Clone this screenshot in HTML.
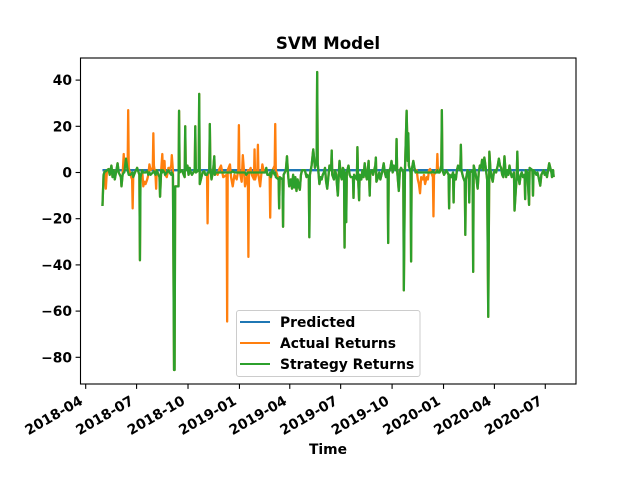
<!DOCTYPE html>
<html lang="en">
<head>
<meta charset="utf-8">
<title>SVM Model</title>
<style>
html,body{margin:0;padding:0;background:#fff;width:640px;height:480px;overflow:hidden}
svg{display:block}
text{font-family:"DejaVu Sans","Liberation Sans",sans-serif;font-weight:bold;fill:#000}
</style>
</head>
<body>
<svg id="chart" width="640" height="480" viewBox="0 0 640 480" xmlns="http://www.w3.org/2000/svg">
  <rect x="0" y="0" width="640" height="480" fill="#fff"/>
  <text x="328" y="49" font-size="16.67" text-anchor="middle">SVM Model</text>
  <g id="series"></g>
  <rect x="80.5" y="58" width="495.5" height="326" fill="none" stroke="#000" stroke-width="1.1"/>
  <g id="ticks"></g>
  <text x="328" y="454" font-size="13.89" text-anchor="middle">Time</text>
  <g>
    <rect x="236.5" y="310.5" width="183.5" height="66" rx="2.5" fill="#fff" fill-opacity="0.8" stroke="#ccc" stroke-width="1"/>
    <line x1="240" x2="270" y1="322" y2="322" stroke="#1f77b4" stroke-width="2.08"/>
    <text x="280" y="327" font-size="13.89">Predicted</text>
    <line x1="240" x2="270" y1="343" y2="343" stroke="#ff7f0e" stroke-width="2.08"/>
    <text x="280" y="348" font-size="13.89">Actual Returns</text>
    <line x1="240" x2="270" y1="364" y2="364" stroke="#2ca02c" stroke-width="2.08"/>
    <text x="280" y="369" font-size="13.89">Strategy Returns</text>
  </g>
</svg>
<script>
// Days since 2018-04-01
const days = [
30,32,34,36,38,41,43,46,48,50,
52,55,57,59,61,63,64,66,68,69,
72,75,76,77,80,83,84,85,88,90,
92,96,97,98,101,103,105,107,110,112,
114,116,120,121,122,125,126,127,132,133,
135,137,138,141,142,145,148,150,153,154,
156,158,159,160,166,167,168,172,177,178,
179,182,184,186,188,190,195,196,197,202,
203,204,207,209,212,214,217,218,219,221,222,223,
225,228,230,231,232,236,239,242,246,252,
253,254,258,260,263,266,270,273,274,275,
279,281,283,285,287,290,291,292,295,297,
301,302,303,307,308,309,312,314,316,318,
321,323,325,329,330,331,334,338,339,340,
345,346,347,352,353,354,358,360,362,364,
367,369,371,373,375,377,379,381,383,385,
387,390,392,395,396,399,400,401,404,407,
410,413,414,415,418,420,422,424,426,428,
430,432,434,436,439,440,441,444,446,448,
451,453,454,456,458,460,462,463,464,466,
467,470,472,474,478,479,480,485,486,487,
489,490,493,495,497,499,501,503,506,508,
509,512,514,518,519,520,523,525,527,529,
531,533,535,537,540,541,542,545,547,549,
551,555,556,557,560,562,564,568,569,571,
574,576,577,578,581,582,583,586,588,590,
592,594,596,598,600,603,605,607,610,612,
614,616,618,621,622,623,628,629,630,633,
636,637,638,641,643,645,649,650,651,654,
657,658,659,662,664,666,670,671,672,675,
678,679,680,683,685,686,687,692,693,694,
697,699,701,703,705,707,709,711,713,715,
718,720,722,724,726,728,730,732,734,737,
739,741,743,745,747,749,751,752,754,756,
758,760,762,766,767,771,772,773,776,778,
780,782,785,786,787,790,793,794,799,800,
801,804,806,808,810,813,815,817,819,821,
823,825,827,829,831,833,834,836,837
];
const actualReturns = [
-14.5,-1,0.5,-7,1,1.5,-1,3,-2,1,
-3,1,4,0,-1,-2,-6,-1,8,2,
6,1,27,2,-1,-3,-15.5,-2,0,1,
2,-1,-38,-2,1,-6,-4,-5,-3,-1,
3.5,1,2,17,3,-2,-7,1,-2,-10.5,
1,8,1,5,-1,-2,2,1,3,7.5,
1,-85.5,-85.5,-6,-6,26.7,0,1,-2,20,
1,3,-1,2,0,-1,1,20,0,1,
34,-5,-2,0,0.5,-1,-1,-22,0,0,21,2,
-3,1,7,-1,0,-1,1.5,3,-2,-1,
-64.5,1,3.5,-2,-6,-1,-3,1,20.5,1,
-4,7.5,1,-6,-4,1,-36.5,0,2,-1,
-3,10,-3,1,12,-1,-6,-1,3.5,1,
0,2,-1,-1,-19.5,-3,1,3,21,1,
-3,-15.5,-2,-3,-23.5,-1,1,7,-1,-6,
-3,-7,-1,-6.5,-2,-8,-3,-6,-7.5,-1,
1,1,1,-2,-1,-2,-28,-1,3,10,
2,5,43.5,4,-5,-2,-3,-1,0,2,
-4,-7,-2,3,1,9.5,-1,-3,1,-1,
-10,1,5,-1,-3,2,1,-32.5,0,-21.5,
0,3,-1,-2,-2,-11,-1,-3,11,-1,
-12,-1,-3,1,-2,4,-1,-3,5,-10,
0,1,-1,3,6.5,-4,-2,0,-3,-1,
1,4,0,-2,1,-30.5,0,2,5,0,
3,1,14.5,1,-8,1,2,0,-51,1,
26.7,5,17,3,0,-38.5,1,5,2,0,
1,-3,-5,-9,-2,-3,-1,-5,-2,-3,
1,1.5,0,-2,-19,-1,1,8,1,0,
3,27,1,-1,0,1,-1,-15.5,-1,-2,
0,-13,-1,-3,1,3,1,12,1,-2,
-4,-27,-3,1,0,-13,0,1,-43,3,
0,-3,-7,0,3,2,5.5,1,6.5,3,
-3,-62.5,9,1,-2,-4,0,1,0,3,
6,3,2,-1,-2,7,0,-2,1,-1,
3,0,-2,0,-16.5,-1,9,-1,-5,-1,
0,-2,-1,-11.5,1,0,-14,2,1,-10,
1,0,-1,0,-2,-5.7,-1,0,1,-1,
0,-2,1,4,2,0,-2,1,-2
];
const strategyReturns = [
-14.5,-1,0.5,0.5,1,1.5,-1,3,-2,1,
-3,1,4,0,-1,-2,-6,-1,0,0,
6,1,0,-1,-1,0,0,-2,0,1,
2,-1,-38,-2,1,0,0,0,0.5,-1,
0,-1,0,0,0.5,-1,0,1,-2,-10.5,
1,0,1,0,-1,0,1,0,-1,0,
-1,-85.5,-85.5,-6,-6,26.7,0,1,-2,20,
1,3,-1,2,0,-1,1,20,0,1,
34,-5,-2,0,0.5,-1,-1,0,0,0,21,2,
-3,1,7,-1,0,0,0,0,0,0,
0,0,0,0,0.5,0,0,0,0,0,
0,0,0,0,-1,0,0,0,0,0,
0,0,0,0,0,0,0,0,0,0,
0,2,-1,-1,0,-2,1,-1,0,-2,
-3,-15.5,-2,-3,-23.5,-1,1,7,-1,-6,
-3,-7,-1,-6.5,-2,-8,-3,-6,-7.5,-1,
1,1,1,-2,-1,-2,-28,-1,3,10,
2,5,43.5,4,-5,-2,-3,-1,0,2,
-4,-7,-2,3,1,9.5,-1,-3,1,-1,
-10,1,5,-1,-3,2,1,-32.5,0,-21.5,
0,3,-1,-2,-2,-11,-1,-3,11,-1,
-12,-1,-3,1,-2,4,-1,-3,5,-10,
0,1,-1,3,6.5,-4,-2,0,-3,-1,
1,4,0,-2,1,-30.5,0,2,5,0,
3,1,14.5,1,-8,1,2,0,-51,1,
26.7,5,17,3,0,-38.5,1,5,2,0,
0.5,0,0,0,0,0,0,0,0,0,
0,0,0,0.5,0,0,0,1,0,0,
3,27,1,-1,0,1,-1,-15.5,-1,-2,
0,-13,-1,-3,1,3,1,12,1,-2,
-4,-27,-3,1,0,-13,0,1,-43,3,
0,-3,-7,0,3,2,5.5,1,6.5,3,
-3,-62.5,9,1,-2,-4,0,1,0,3,
6,3,2,-1,-2,7,0,-2,1,-1,
3,0,-2,0,-16.5,-1,9,-1,-5,-1,
0,-2,-1,-11.5,1,0,-14,2,1,-10,
1,0,-1,0,-2,-5.7,-1,0,1,-1,
0,-2,1,4,2,0,-2,1,-2
];
const predictedDays = [30,120,240,360,480,600,720,837];
const predictedValues = [1,1,1,1,1,1,1,1];
const yTickValues = [40,20,0,-20,-40,-60,-80];
const xTickDays = [0,91,183,275,365,456,548,640,731,822];
const xTickLabels = ["2018-04","2018-07","2018-10","2019-01","2019-04","2019-07","2019-10","2020-01","2020-04","2020-07"];

const NS = "http://www.w3.org/2000/svg";
function xScale(d){ return 85.7 + 0.5591 * d; }
function yScale(v){ return 172.5 - 2.31 * v; }

function drawLine(xs, ys, color, name, width){
  const p = document.createElementNS(NS, "polyline");
  p.setAttribute("points", xs.map(function(d, i){ return xScale(d).toFixed(2) + "," + yScale(ys[i]).toFixed(2); }).join(" "));
  p.setAttribute("fill", "none");
  p.setAttribute("stroke", color);
  p.setAttribute("stroke-width", width);
  p.setAttribute("stroke-linejoin", "round");
  
  
  document.getElementById("series").appendChild(p);
}
drawLine(predictedDays, predictedValues, "#1f77b4", "predicted-line", "2.3");
drawLine(days, actualReturns, "#ff7f0e", "actual-returns-line", "2.3");
drawLine(days, strategyReturns, "#2ca02c", "strategy-returns-line", "2.3");

const tickGroup = document.getElementById("ticks");
yTickValues.forEach(function(v){
  const y = yScale(v);
  const t = document.createElementNS(NS, "line");
  t.setAttribute("x1", 75.6);
  t.setAttribute("x2", 80.5);
  t.setAttribute("y1", y);
  t.setAttribute("y2", y);
  t.setAttribute("stroke", "#000");
  t.setAttribute("stroke-width", "1.1");
  
  
  tickGroup.appendChild(t);
  const l = document.createElementNS(NS, "text");
  l.setAttribute("x", 72);
  l.setAttribute("y", y + 5);
  l.setAttribute("font-size", "13.89");
  l.setAttribute("text-anchor", "end");
  
  
  l.textContent = String(v).replace("-", "\u2212");
  tickGroup.appendChild(l);
});
xTickDays.forEach(function(d, i){
  const x = xScale(d);
  const t = document.createElementNS(NS, "line");
  t.setAttribute("x1", x);
  t.setAttribute("x2", x);
  t.setAttribute("y1", 384);
  t.setAttribute("y2", 388.9);
  t.setAttribute("stroke", "#000");
  t.setAttribute("stroke-width", "1.1");
  
  
  tickGroup.appendChild(t);
  const l = document.createElementNS(NS, "text");
  l.setAttribute("font-size", "13.89");
  l.setAttribute("text-anchor", "end");
  l.setAttribute("transform", "translate(" + (x - 2) + " 403.5) rotate(-30)");
  
  
  l.textContent = xTickLabels[i];
  tickGroup.appendChild(l);
});
</script>
</body>
</html>
